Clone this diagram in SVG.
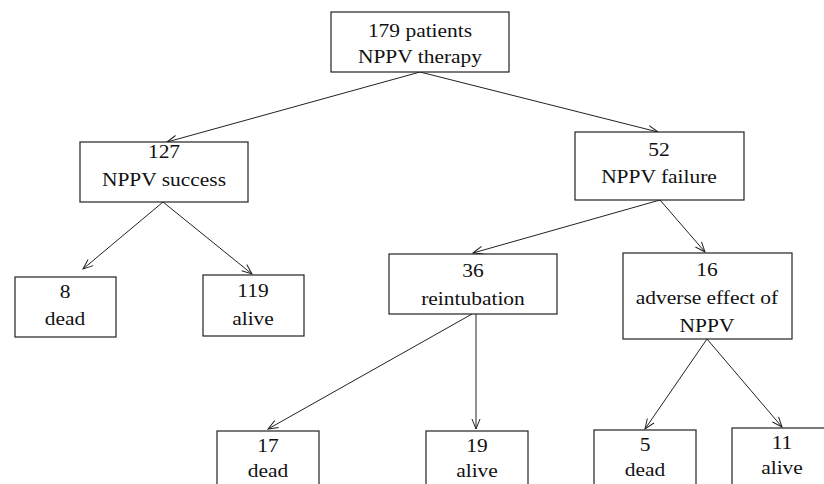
<svg xmlns="http://www.w3.org/2000/svg" width="824" height="484" viewBox="0 0 824 484">
<style>
rect.box{fill:#fff;stroke:#222;stroke-width:1.2}
text{font-family:'Liberation Serif','Times New Roman','DejaVu Serif',serif;font-size:18.5px;fill:#111;text-anchor:middle}
.conn line{stroke:#222;stroke-width:1}
</style>
<defs>
<marker id="ah" viewBox="0 0 12 10" refX="11" refY="5" markerWidth="12" markerHeight="10" markerUnits="userSpaceOnUse" orient="auto">
<polyline points="1,1 11,5 1,9" fill="none" stroke="#222" stroke-width="1"/>
</marker>
</defs>
<rect width="824" height="484" fill="#fff"/>
<g class="conn">
<line x1="420" y1="72" x2="167" y2="142" marker-end="url(#ah)"/>
<line x1="420" y1="72" x2="658" y2="132" marker-end="url(#ah)"/>
<line x1="163" y1="202" x2="83" y2="269" marker-end="url(#ah)"/>
<line x1="163" y1="202" x2="252" y2="274" marker-end="url(#ah)"/>
<line x1="660" y1="200" x2="473" y2="253" marker-end="url(#ah)"/>
<line x1="660" y1="200" x2="705" y2="252" marker-end="url(#ah)"/>
<line x1="472" y1="314" x2="268" y2="429" marker-end="url(#ah)"/>
<line x1="476" y1="314" x2="476" y2="429" marker-end="url(#ah)"/>
<line x1="707" y1="339" x2="645" y2="429" marker-end="url(#ah)"/>
<line x1="707" y1="339" x2="782" y2="427" marker-end="url(#ah)"/>
</g>
<g font-family="Liberation Serif, Times New Roman, DejaVu Serif, serif">
<g id="n-top"><rect class="box" x="331" y="12" width="178" height="60"/>
<text transform="translate(420,37) scale(1.16,1)">179 patients</text>
<text transform="translate(420,63) scale(1.16,1)">NPPV therapy</text></g>
<g id="n-success"><rect class="box" x="80" y="142" width="168" height="60"/>
<text transform="translate(164,158) scale(1.16,1)">127</text>
<text transform="translate(164,186) scale(1.16,1)">NPPV success</text></g>
<g id="n-failure"><rect class="box" x="575" y="132" width="169" height="68"/>
<text transform="translate(659,156) scale(1.16,1)">52</text>
<text transform="translate(659,183) scale(1.16,1)">NPPV failure</text></g>
<g id="n-dead8"><rect class="box" x="15" y="277" width="101" height="60"/>
<text transform="translate(65,298) scale(1.16,1)">8</text>
<text transform="translate(65,325) scale(1.16,1)">dead</text></g>
<g id="n-alive119"><rect class="box" x="203" y="275" width="101" height="61"/>
<text transform="translate(253,297) scale(1.16,1)">119</text>
<text transform="translate(253,325) scale(1.16,1)">alive</text></g>
<g id="n-reint"><rect class="box" x="389" y="254" width="168" height="60"/>
<text transform="translate(473,277) scale(1.16,1)">36</text>
<text transform="translate(473,305) scale(1.16,1)">reintubation</text></g>
<g id="n-adverse"><rect class="box" x="623" y="253" width="169" height="86"/>
<text transform="translate(707,276) scale(1.16,1)">16</text>
<text transform="translate(707,304) scale(1.16,1)">adverse effect of</text>
<text transform="translate(707,332) scale(1.16,1)">NPPV</text></g>
<g id="n-dead17"><rect class="box" x="217" y="431" width="102" height="70"/>
<text transform="translate(268,452) scale(1.16,1)">17</text>
<text transform="translate(268,477) scale(1.16,1)">dead</text></g>
<g id="n-alive19"><rect class="box" x="426" y="431" width="102" height="70"/>
<text transform="translate(477,452) scale(1.16,1)">19</text>
<text transform="translate(477,477) scale(1.16,1)">alive</text></g>
<g id="n-dead5"><rect class="box" x="594" y="430" width="102" height="70"/>
<text transform="translate(645,451) scale(1.16,1)">5</text>
<text transform="translate(645,476) scale(1.16,1)">dead</text></g>
<g id="n-alive11"><rect class="box" x="732" y="428" width="102" height="72"/>
<text transform="translate(782,449) scale(1.16,1)">11</text>
<text transform="translate(782,474) scale(1.16,1)">alive</text></g>
</g>
</svg>
